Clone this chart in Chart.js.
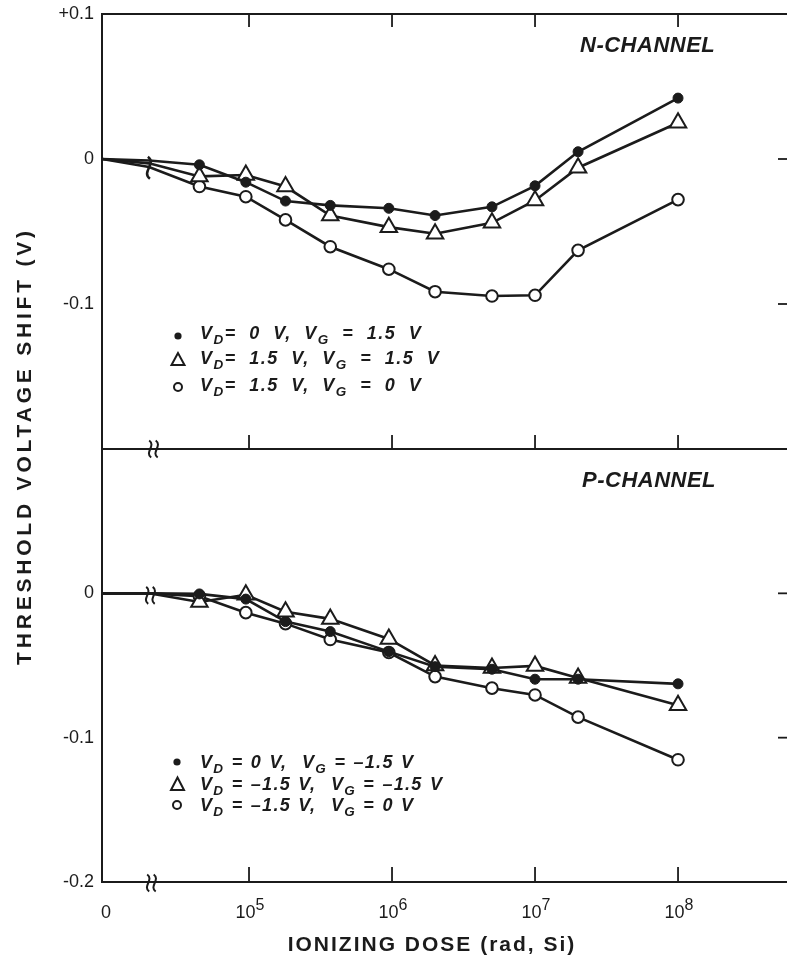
<!DOCTYPE html>
<html>
<head>
<meta charset="utf-8">
<title>Threshold voltage shift vs ionizing dose</title>
<script src="https://cdn.jsdelivr.net/npm/chart.js@4.4.1/dist/chart.umd.min.js"></script>
<style>
  html, body { margin:0; padding:0; background:#fff; }
  #page { position:relative; width:787px; height:960px; overflow:hidden; background:#fff; color:#1b1b1b;
          font-family:"Liberation Sans", Arial, Helvetica, sans-serif; }
  canvas { position:absolute; left:0; }
  #cN { top:0; width:787px; height:461px; }
  #cP { top:437px; width:787px; height:523px; }
  .t { position:absolute; white-space:nowrap; }
  .panel { font-size:22px; font-weight:bold; font-style:italic; line-height:26px; letter-spacing:0.5px; }
  .leg { font-size:18px; font-weight:bold; font-style:italic; line-height:22px; left:200px; }
  .legN { letter-spacing:1.5px; word-spacing:6px; }
  .legP { letter-spacing:1.3px; word-spacing:1px; }
  .leg sub { font-size:0.75em; line-height:0; vertical-align:-0.4em; }
  .xt { font-size:18px; line-height:22px; top:901px; }
  .xt sup { font-size:16px; line-height:0; vertical-align:8.5px; }
  #ytitle { left:24px; top:446px; transform:translate(-50%,-50%) rotate(-90deg); font-size:21px; font-weight:bold;
            letter-spacing:3.8px; line-height:24px; }
  #xtitle { left:432px; top:944px; transform:translate(-50%,-50%); font-size:21px; font-weight:bold;
            letter-spacing:2px; line-height:24px; }
  #marks { position:absolute; left:0; top:0; }
</style>
</head>
<body>
<div id="page">
  <canvas id="cN" width="787" height="461"></canvas>
  <canvas id="cP" width="787" height="523"></canvas>

  <div class="t panel" style="left:580px; top:32px;">N-CHANNEL</div>
  <div class="t panel" style="left:582px; top:467px;">P-CHANNEL</div>

  <div class="t leg legN" style="top:322px;">V<sub>D</sub>= 0 V, V<sub>G</sub> = 1.5 V</div>
  <div class="t leg legN" style="top:347px;">V<sub>D</sub>= 1.5 V, V<sub>G</sub> = 1.5 V</div>
  <div class="t leg legN" style="top:374px;">V<sub>D</sub>= 1.5 V, V<sub>G</sub> = 0 V</div>

  <div class="t leg legP" style="top:751px;">V<sub>D</sub> = 0 V,&nbsp; V<sub>G</sub> = –1.5 V</div>
  <div class="t leg legP" style="top:773px;">V<sub>D</sub> = –1.5 V,&nbsp; V<sub>G</sub> = –1.5 V</div>
  <div class="t leg legP" style="top:794px;">V<sub>D</sub> = –1.5 V,&nbsp; V<sub>G</sub> = 0 V</div>

  <svg id="marks" width="787" height="960">
    <circle cx="178" cy="336" r="3.6" fill="#1b1b1b"/>
    <polygon points="178,353 171.5,365 184.5,365" fill="none" stroke="#1b1b1b" stroke-width="2" stroke-linejoin="miter"/>
    <circle cx="178" cy="387" r="4" fill="none" stroke="#1b1b1b" stroke-width="2"/>
    <circle cx="177" cy="762" r="3.6" fill="#1b1b1b"/>
    <polygon points="177.5,777.5 171,790 184,790" fill="none" stroke="#1b1b1b" stroke-width="2" stroke-linejoin="miter"/>
    <circle cx="177" cy="805" r="4" fill="none" stroke="#1b1b1b" stroke-width="2"/>
  </svg>

  <div class="t" id="ytitle">THRESHOLD VOLTAGE SHIFT (V)</div>
  <div class="t" id="xtitle">IONIZING DOSE (rad, Si)</div>
</div>

<script>
// ---------------- data ----------------
// dose in rad(Si); 0 = unirradiated point left of the axis break, 2e4 = point at the break
const doses = [0, 2e4, 4.5e4, 9.5e4, 1.8e5, 3.7e5, 9.5e5, 2e6, 5e6, 1e7, 2e7, 1e8];

// N-channel threshold voltage shift (V)
const nFilled   = [0, -0.001, -0.004, -0.016, -0.029, -0.032, -0.034, -0.039, -0.033, -0.0185, 0.005, 0.042];
const nTriangle = [0, -0.003, -0.012, -0.011, -0.019, -0.039, -0.047, -0.0515, -0.044, -0.0286, -0.006, 0.025];
const nOpen     = [0, -0.0055, -0.019, -0.026, -0.042, -0.0605, -0.076, -0.0915, -0.0945, -0.094, -0.063, -0.028];

// P-channel threshold voltage shift (V)
const pFilled   = [0, 0, -0.0004, -0.004, -0.0196, -0.0265, -0.0404, -0.0508, -0.0526, -0.0595, -0.0595, -0.0627];
const pTriangle = [0, 0, -0.006, -0.001, -0.0127, -0.0177, -0.0316, -0.050, -0.0517, -0.0503, -0.0586, -0.0776];
const pOpen     = [0, 0, -0.002, -0.0134, -0.021, -0.032, -0.041, -0.0577, -0.0657, -0.0704, -0.0858, -0.1153];

const nLabels = ['VD = 0 V, VG = 1.5 V', 'VD = 1.5 V, VG = 1.5 V', 'VD = 1.5 V, VG = 0 V'];
const pLabels = ['VD = 0 V, VG = -1.5 V', 'VD = -1.5 V, VG = -1.5 V', 'VD = -1.5 V, VG = 0 V'];

// tick labels
const xTickValues = [4, 5, 6, 7, 8];               // log10 positions ("0" sits at the 10^4 slot)
const xTickLabels = ['0', '10^5', '10^6', '10^7', '10^8'];
const yTickValues = [0.1, 0, -0.1, -0.2];
const yTickLabelsN = ['+0.1', '0', '-0.1', ''];
const yTickLabelsP = ['', '0', '-0.1', '-0.2'];

// ---------------- drawing ----------------
const INK = '#1b1b1b';
const X_MIN = 3.972, X_MAX = 8.762, BREAK_X = 4.33;
Chart.defaults.font.family = '"Liberation Sans", Arial, Helvetica, sans-serif';
Chart.defaults.color = INK;

const toX = d => d === 0 ? X_MIN : Math.log10(d);
const series = vals => doses.map((d, i) => ({ x: toX(d), y: vals[i] }));
const hideFirst = r => ctx => (ctx.dataIndex < 2 ? 0 : r);

function dsFilled(label, vals) {
  return { label, data: series(vals), borderColor: INK, borderWidth: 2.6, tension: 0, fill: false,
           pointStyle: 'circle', pointRadius: hideFirst(5), pointBackgroundColor: INK,
           pointBorderColor: INK, pointBorderWidth: 1 };
}
function dsTriangle(label, vals) {
  return { label, data: series(vals), borderColor: INK, borderWidth: 2.6, tension: 0, fill: false,
           pointStyle: 'triangle', pointRadius: hideFirst(9.5), pointBackgroundColor: '#fff',
           pointBorderColor: INK, pointBorderWidth: 2 };
}
function dsOpen(label, vals) {
  return { label, data: series(vals), borderColor: INK, borderWidth: 2.6, tension: 0, fill: false,
           pointStyle: 'circle', pointRadius: hideFirst(5.8), pointBackgroundColor: '#fff',
           pointBorderColor: INK, pointBorderWidth: 2 };
}

function wave(ctx, cx, cy, h, amp) {
  ctx.beginPath();
  ctx.moveTo(cx - 1, cy - h / 2);
  ctx.bezierCurveTo(cx + amp, cy - h / 5, cx - amp, cy + h / 5, cx + 1, cy + h / 2);
  ctx.stroke();
}
function doubleWave(ctx, cx, cy) {
  ctx.save();
  ctx.lineWidth = 2;
  wave(ctx, cx - 3, cy, 17, 6);
  wave(ctx, cx + 3.5, cy, 17, 6);
  ctx.restore();
}

function framePlugin(kind) {
  return {
    id: 'frame' + kind,
    afterDraw(chart) {
      const { ctx, chartArea: a, scales: { x, y } } = chart;
      const line = (x1, y1, x2, y2) => { ctx.beginPath(); ctx.moveTo(x1, y1); ctx.lineTo(x2, y2); ctx.stroke(); };
      ctx.save();
      ctx.strokeStyle = INK;
      ctx.lineWidth = 2;
      const decades = xTickValues.slice(1).map(v => x.getPixelForValue(v));
      const bx = x.getPixelForValue(BREAK_X);
      if (kind === 'N') {
        line(a.left - 1, a.top, a.right, a.top);
        line(a.left - 1, a.bottom, a.right, a.bottom);
        ctx.lineWidth = 1.8;
        decades.forEach(px => { line(px, a.top, px, a.top + 13); line(px, a.bottom, px, a.bottom - 14); });
        doubleWave(ctx, bx, a.bottom);
        ctx.lineWidth = 2.6;
        wave(ctx, x.getPixelForValue(4.3), y.getPixelForValue(-0.006), 22, 8);
      } else {
        ctx.lineWidth = 1.8;
        decades.forEach(px => line(px, a.bottom, px, a.bottom - 15));
        doubleWave(ctx, bx - 2, a.bottom + 1);
        doubleWave(ctx, bx - 3, y.getPixelForValue(0) + 2);
      }
      ctx.lineWidth = 1.8;
      [0, -0.1].forEach(v => { const py = y.getPixelForValue(v); line(a.right - 9, py, a.right, py); });
      ctx.restore();
    }
  };
}

function makeChart(id, kind, datasets, yLabels, pad) {
  const showX = kind === 'P';
  return new Chart(document.getElementById(id), {
    type: 'line',
    data: { datasets },
    options: {
      responsive: false, animation: false, devicePixelRatio: 1,
      layout: { padding: pad, autoPadding: false },
      plugins: { legend: { display: false }, tooltip: { enabled: false } },
      scales: {
        x: {
          type: 'linear', min: X_MIN, max: X_MAX, display: showX,
          afterBuildTicks: s => { s.ticks = xTickValues.map(v => ({ value: v })); },
          afterFit: s => { if (showX) s.height = 78; },
          ticks: { display: false },
          grid: { display: false, drawTicks: false },
          border: { display: true, color: INK, width: 2 }
        },
        y: {
          type: 'linear', min: -0.2, max: 0.1, position: 'left',
          afterBuildTicks: s => { s.ticks = yTickValues.map(v => ({ value: v })); },
          afterFit: s => { s.width = 102; },
          ticks: { padding: 8, font: { size: 18, lineHeight: 0.4 }, color: INK,
                   callback: v => { const i = yTickValues.findIndex(t => Math.abs(t - v) < 1e-9); return i < 0 ? '' : yLabels[i]; } },
          grid: { display: false, drawTicks: false },
          border: { display: true, color: INK, width: 2 }
        }
      }
    },
    plugins: [framePlugin(kind)]
  });
}

makeChart('cN', 'N', [
  dsFilled(nLabels[0], nFilled),
  dsTriangle(nLabels[1], nTriangle),
  dsOpen(nLabels[2], nOpen)
], yTickLabelsN, { top: 14, bottom: 12, left: 0, right: 0 });

const chartP = makeChart('cP', 'P', [
  dsFilled(pLabels[0], pFilled),
  dsTriangle(pLabels[1], pTriangle),
  dsOpen(pLabels[2], pOpen)
], yTickLabelsP, { top: 12, bottom: 0, left: 0, right: 0 });

// x tick labels (with real superscripts), placed from the chart's own x scale
const page = document.getElementById('page');
const xs = chartP.scales.x;
xTickValues.forEach((v, i) => {
  const [base, exp] = xTickLabels[i].split('^');
  const el = document.createElement('div');
  el.className = 't xt';
  el.innerHTML = exp ? base + '<sup>' + exp + '</sup>' : base;
  page.appendChild(el);
  const px = xs.getPixelForValue(v);
  el.style.left = (px - el.offsetWidth / 2 + (exp ? 1 : 0)) + 'px';
});
</script>
</body>
</html>
